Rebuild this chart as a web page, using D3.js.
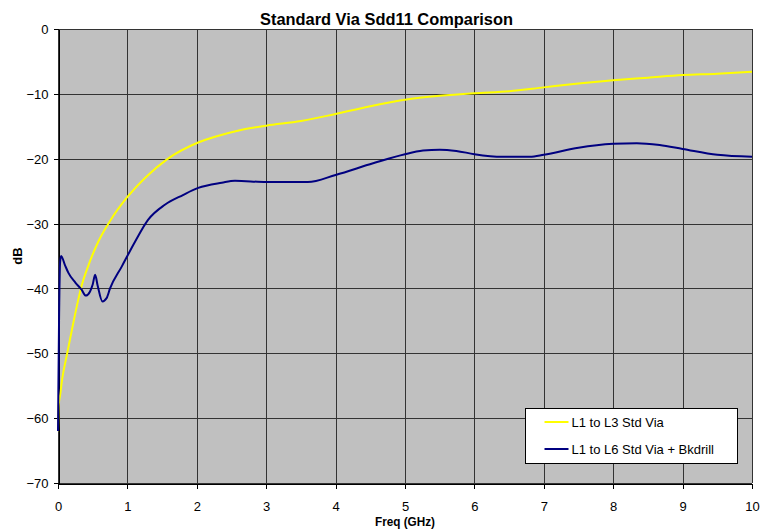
<!DOCTYPE html>
<html>
<head>
<meta charset="utf-8">
<script src="https://cdn.jsdelivr.net/npm/d3@7"></script>
<style>
  html, body { margin: 0; padding: 0; background: #fff; }
  svg { display: block; font-family: "Liberation Sans", Arial, sans-serif; }
</style>
</head>
<body>
<svg id="chart" width="768" height="532"></svg>
<script>
// Sdd11 return loss, frequency in GHz, magnitude in dB
const stdViaFreq = [0, 0.01, 0.03, 0.06, 0.125, 0.2, 0.27, 0.33, 0.44, 0.58, 0.75, 1.0, 1.25, 1.57, 2.02, 2.3, 2.62, 3.0, 3.5, 4.0, 4.5, 5.0, 5.5, 6.0, 6.5, 7.0, 7.5, 8.0, 8.5, 9.0, 9.5, 10.0];
const stdViaDb   = [-62, -58, -56.5, -54, -50.4, -46.4, -42.8, -40, -36.4, -32.8, -29.6, -25.9, -23, -20.1, -17.5, -16.5, -15.6, -14.9, -14.2, -13.1, -11.9, -10.9, -10.3, -9.9, -9.6, -9.0, -8.4, -7.9, -7.5, -7.1, -6.9, -6.6];

const bkdrillFreq = [0, 0.005, 0.015, 0.03, 0.045, 0.1, 0.15, 0.25, 0.34, 0.4, 0.46, 0.5, 0.535, 0.57, 0.64, 0.7, 0.75, 0.92, 1.11, 1.3, 1.54, 1.8, 2.02, 2.36, 2.55, 3.0, 3.3, 3.6, 4.0, 4.54, 5.0, 5.26, 5.5, 5.74, 6.0, 6.4, 6.8, 7.0, 7.5, 8.0, 8.34, 8.67, 9.0, 9.5, 10.0];
const bkdrillDb   = [-62, -56, -45, -36, -35, -36.4, -37.6, -39.1, -40.2, -41.1, -40.5, -39.4, -37.9, -39.5, -42, -41.5, -40, -36.6, -32.8, -29.4, -27.1, -25.6, -24.5, -23.7, -23.4, -23.6, -23.6, -23.6, -22.5, -20.7, -19.3, -18.75, -18.6, -18.8, -19.3, -19.7, -19.7, -19.4, -18.3, -17.7, -17.6, -17.9, -18.5, -19.4, -19.7];

const seriesNames = ["L1 to L3 Std Via", "L1 to L6 Std Via + Bkdrill"];
const seriesColors = ["#ffff00", "#000080"];
const xTicks = [0, 1, 2, 3, 4, 5, 6, 7, 8, 9, 10];
const yTicks = [0, -10, -20, -30, -40, -50, -60, -70];

const titleText = "Standard Via Sdd11 Comparison";
const xTitle = "Freq (GHz)";
const yTitle = "dB";

const svg = d3.select("#chart");
const margin = { left: 58, top: 29, right: 16, bottom: 49 };
const W = 768, H = 532;
const pw = W - margin.left - margin.right;
const ph = H - margin.top - margin.bottom;

const x = d3.scaleLinear().domain([0, 10]).range([margin.left, margin.left + pw]);
const y = d3.scaleLinear().domain([-70, 0]).range([margin.top + ph, margin.top]);

// plot background
svg.append("rect")
  .attr("x", x(0)).attr("y", y(0))
  .attr("width", x(10) - x(0)).attr("height", y(-70) - y(0))
  .attr("fill", "#c0c0c0");

// grid lines
const grid = svg.append("g").attr("stroke", "#333").attr("stroke-width", 1).attr("shape-rendering", "crispEdges");
grid.selectAll("line.v").data(xTicks).join("line")
  .attr("x1", d => Math.round(x(d)) + 0.5).attr("x2", d => Math.round(x(d)) + 0.5)
  .attr("y1", y(0)).attr("y2", y(-70));
grid.selectAll("line.h").data(yTicks).join("line")
  .attr("y1", d => Math.round(y(d)) + 0.5).attr("y2", d => Math.round(y(d)) + 0.5)
  .attr("x1", x(0)).attr("x2", x(10));

// axes
const xAxis = d3.axisBottom(x).tickValues(xTicks).tickFormat(d3.format("d")).tickSize(5).tickSizeOuter(0);
const yAxis = d3.axisLeft(y).tickValues(yTicks).tickFormat(d3.format("d")).tickSize(5).tickSizeOuter(0);

const gx = svg.append("g").attr("transform", `translate(0,${Math.round(y(-70)) + 0.5})`).call(xAxis);
const gy = svg.append("g").attr("transform", `translate(${Math.round(x(0)) + 0.5},0)`).call(yAxis);
[gx, gy].forEach(g => {
  g.selectAll("path").attr("stroke", "#000").attr("shape-rendering", "crispEdges");
  g.selectAll("line").attr("stroke", "#000").attr("shape-rendering", "crispEdges");
  g.selectAll("text").attr("font-size", 13).attr("fill", "#000")
    .attr("font-family", "'Liberation Sans', Arial, sans-serif");
});
gx.selectAll("text").attr("y", 27.5).attr("dy", 0);
gy.selectAll("text").attr("x", -10).attr("dy", "0.36em");

// curves
const mk = d3.line().x(d => x(d[0])).y(d => y(d[1])).curve(d3.curveMonotoneX);
const seriesData = [
  d3.zip(stdViaFreq, stdViaDb),
  d3.zip(bkdrillFreq, bkdrillDb)
];
svg.append("g").selectAll("path").data(seriesData).join("path")
  .attr("d", mk)
  .attr("fill", "none")
  .attr("stroke", (d, i) => seriesColors[i])
  .attr("stroke-width", 2)
  .attr("stroke-linejoin", "round");

// titles
svg.append("text")
  .attr("x", 386.5).attr("y", 25)
  .attr("text-anchor", "middle").attr("font-weight", "bold").attr("font-size", 17)
  .attr("textLength", 253).attr("lengthAdjust", "spacingAndGlyphs")
  .text(titleText);

svg.append("text")
  .attr("x", 405).attr("y", 526)
  .attr("text-anchor", "middle").attr("font-weight", "bold").attr("font-size", 13)
  .attr("textLength", 60).attr("lengthAdjust", "spacingAndGlyphs")
  .text(xTitle);

svg.append("text")
  .attr("transform", `translate(22,${(y(0) + y(-70)) / 2}) rotate(-90)`)
  .attr("text-anchor", "middle").attr("font-weight", "bold").attr("font-size", 13)
  .text(yTitle);

// legend
const lg = svg.append("g").attr("transform", "translate(525.5,408.5)");
lg.append("rect").attr("width", 212).attr("height", 55)
  .attr("fill", "#fff").attr("stroke", "#000").attr("stroke-width", 1);
const items = lg.selectAll("g").data(seriesNames).join("g")
  .attr("transform", (d, i) => `translate(0,${13.5 + i * 27})`);
items.append("line").attr("x1", 19).attr("x2", 43).attr("y1", 0).attr("y2", 0)
  .attr("stroke", (d, i) => seriesColors[i]).attr("stroke-width", 2);
items.append("text").attr("x", 46).attr("y", 0).attr("dy", "0.35em")
  .attr("font-size", 13).text(d => d);
</script>
</body>
</html>
